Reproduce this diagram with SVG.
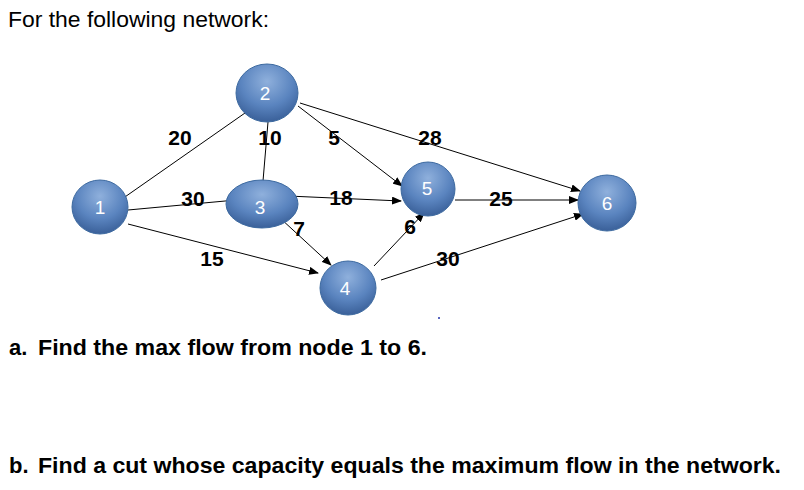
<svg xmlns="http://www.w3.org/2000/svg" width="804" height="490" viewBox="0 0 804 490">
<style>
.n{fill:url(#g);stroke:#3d6aa0;stroke-width:1}
.nl{font-family:"Liberation Sans",Arial,sans-serif;font-size:19px;fill:#fff;text-anchor:middle}
.e{stroke:#000;stroke-width:1;fill:none}
.a{marker-end:url(#ar)}
.l{font-family:"Liberation Sans",Arial,sans-serif;font-size:21px;font-weight:bold;fill:#000;text-anchor:middle}
.t{font-family:"Liberation Sans",Arial,sans-serif;font-size:22px;fill:#000}
.b{font-family:"Liberation Sans",Arial,sans-serif;font-size:22px;font-weight:bold;fill:#000}
</style>
<defs>
<radialGradient id="g" cx="0.5" cy="0.3" r="0.7">
<stop offset="0" stop-color="#8fb0dc"/><stop offset="0.6" stop-color="#5a84bf"/><stop offset="1" stop-color="#3a6099"/>
</radialGradient>
<marker id="ar" markerWidth="10" markerHeight="8" refX="9" refY="4" orient="auto" markerUnits="userSpaceOnUse">
<path d="M0,0 L10,4 L0,8 Z" fill="#000"/>
</marker>
</defs>
<rect width="804" height="490" fill="#fff"/>
<text class="t" x="8" y="27" textLength="261" lengthAdjust="spacingAndGlyphs">For the following network:</text>
<g id="connectors">
<line class="e" x1="122" y1="199" x2="245" y2="113"/>
<line class="e" x1="268" y1="122" x2="263" y2="181"/>
<line class="e a" x1="298" y1="106" x2="402" y2="186"/>
<line class="e a" x1="300" y1="103" x2="580" y2="191"/>
<line class="e a" x1="128" y1="210" x2="236" y2="200"/>
<line class="e a" x1="288" y1="196" x2="401" y2="201"/>
<line class="e a" x1="280" y1="218" x2="331" y2="265"/>
<line class="e a" x1="128" y1="224" x2="318" y2="273"/>
<line class="e a" x1="374" y1="266" x2="424" y2="213"/>
<line class="e a" x1="455" y1="200" x2="578" y2="200"/>
<line class="e a" x1="381" y1="280" x2="583" y2="214"/>
</g>
<g id="labels">
<text class="l" x="180" y="145">20</text>
<text class="l" x="270" y="145">10</text>
<text class="l" x="334" y="145">5</text>
<text class="l" x="430" y="145">28</text>
<text class="l" x="193" y="206">30</text>
<text class="l" x="341" y="205">18</text>
<text class="l" x="299" y="236">7</text>
<text class="l" x="410" y="234">6</text>
<text class="l" x="212" y="266">15</text>
<text class="l" x="448" y="266">30</text>
<text class="l" x="501" y="206">25</text>
</g>
<g id="node1"><ellipse class="n" cx="100" cy="207" rx="28" ry="27"/><text class="nl" x="100" y="214">1</text></g>
<g id="node2"><ellipse class="n" cx="267" cy="93" rx="31" ry="29"/><text class="nl" x="265" y="100">2</text></g>
<g id="node3"><ellipse class="n" cx="262" cy="204" rx="36" ry="24"/><text class="nl" x="260" y="214">3</text></g>
<g id="node4"><ellipse class="n" cx="348" cy="288" rx="28" ry="27"/><text class="nl" x="345" y="295">4</text></g>
<g id="node5"><ellipse class="n" cx="428" cy="189" rx="27" ry="27"/><text class="nl" x="427" y="195">5</text></g>
<g id="node6"><ellipse class="n" cx="607" cy="203" rx="29" ry="28"/><text class="nl" x="607" y="210">6</text></g>
<circle cx="439" cy="318" r="1" fill="#2233aa"/>
<text class="b" x="9" y="355">a.</text>
<text class="b" x="38" y="355" textLength="389" lengthAdjust="spacingAndGlyphs">Find the max flow from node 1 to 6.</text>
<text class="b" x="9" y="473">b.</text>
<text class="b" x="38" y="473" textLength="743" lengthAdjust="spacingAndGlyphs">Find a cut whose capacity equals the maximum flow in the network.</text>
</svg>
